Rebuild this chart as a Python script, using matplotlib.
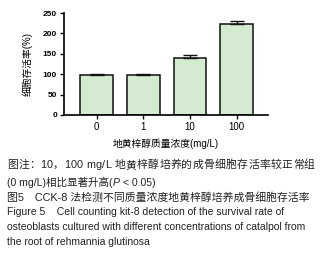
import matplotlib
matplotlib.use("Agg")
import matplotlib.pyplot as plt

categories = ["0", "1", "10", "100"]
values = [98, 98, 140, 224]
errors = [1.5, 1.5, 6, 7]
yticks = [0, 50, 100, 150, 200, 250]
ylabel = "细胞存活率(%)"
xlabel = "地黄梓醇质量浓度(mg/L)"
caption = [
    ["图注：10，100 mg/L 地黄梓醇培养的成骨细胞存活率较正常组"],
    ["(0 mg/L)相比显著升高(", ("P", "italic"), " < 0.05)"],
    ["图5　CCK-8 法检测不同质量浓度地黄梓醇培养成骨细胞存活率"],
    ["Figure 5    Cell counting kit-8 detection of the survival rate of"],
    ["osteoblasts cultured with different concentrations of catalpol from"],
    ["the root of rehmannia glutinosa"],
]

FAM = ["Liberation Sans", "Noto Sans CJK SC", "DejaVu Sans"]
plt.rcParams["font.family"] = FAM

fig = plt.figure(figsize=(3.26, 2.56), dpi=100)
ax = fig.add_axes([0.196, 0.551, 0.626, 0.398])
x = list(range(len(categories)))
ax.bar(x, values, width=0.7, color="#d5ebd1", edgecolor="#111111", linewidth=1.1, zorder=2)
ax.errorbar(x, values, yerr=[[0] * len(errors), errors], fmt="none", ecolor="#111111",
            elinewidth=1.0, capsize=5.2, capthick=1.0, zorder=3)
ax.set_xlim(-0.7, 3.67)
ax.set_ylim(0, 250)
ax.set_yticks(yticks)
ax.set_yticklabels([str(t) for t in yticks], fontsize=6, fontweight="bold")
ax.set_xticks(x)
ax.set_xticklabels(categories, fontsize=7)
for s in ["top", "right"]:
    ax.spines[s].set_visible(False)
for s in ["left", "bottom"]:
    ax.spines[s].set_linewidth(1.2)
ax.tick_params(axis="both", length=3, width=1.0, pad=2)
ax.set_ylabel(ylabel, fontsize=7, labelpad=7)
ax.set_xlabel(xlabel, fontsize=7, labelpad=5)

ys = [165, 182, 197, 212, 227, 242]
sizes = [7.8, 7.6, 7.8, 7.45, 7.45, 7.45]
spacing = [0.25, 0, 0, 0, 0, 0]
color = "#222222"
for line, ypx, fs, sp in zip(caption, ys, sizes, spacing):
    prev = None
    for piece in line:
        if isinstance(piece, tuple):
            txt, style = piece
        else:
            txt, style = piece, "normal"
        chunks = list(txt) if sp > 0 else [txt]
        for ch in chunks:
            if prev is None:
                prev = fig.text(7 / 326, 1 - ypx / 256, ch, fontsize=fs, style=style,
                                color=color, va="center", ha="left")
            else:
                prev = fig.axes[0].annotate(ch, xy=(1, 0), xycoords=last,
                                            xytext=(sp, 0), textcoords="offset pixels",
                                            va="bottom", ha="left", fontsize=fs,
                                            style=style, color=color,
                                            annotation_clip=False)
            last = prev

fig.savefig("out.png", dpi=100)
